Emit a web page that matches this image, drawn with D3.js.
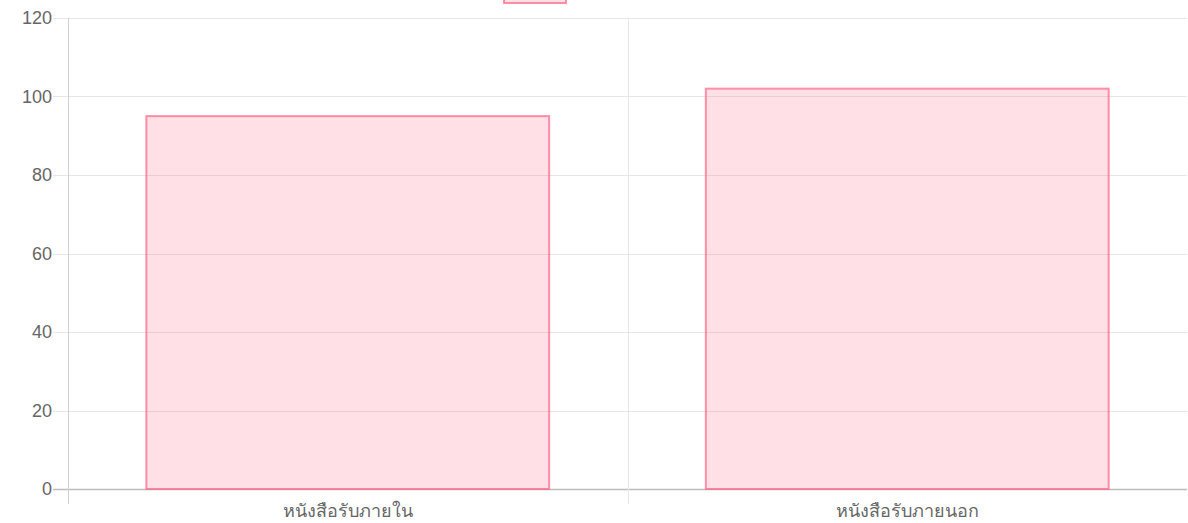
<!DOCTYPE html>
<html lang="th">
<head>
  <meta charset="UTF-8">
  <title>Bar chart</title>
  <script src="https://d3js.org/d3.v7.min.js"></script>
  <style>
    body { margin: 0; background: #fff; }
    svg { display: block; font-family: "Liberation Sans", Arial, sans-serif; }
  </style>
</head>
<body>
  <script>
    "use strict";
    // data
    var categories = ['หนังสือรับภายใน', 'หนังสือรับภายนอก'];
    var values = [95, 102];
    var yTicks = [0, 20, 40, 60, 80, 100, 120];

    var width = 1188, height = 523;
    var margin = { top: 18, right: 1, bottom: 34, left: 68 };

    var svg = d3.select('body').append('svg')
      .attr('width', width)
      .attr('height', height);

    var x = d3.scaleBand()
      .domain(categories)
      .range([margin.left, width - margin.right]);

    var y = d3.scaleLinear()
      .domain([0, 120])
      .range([height - margin.bottom, margin.top]);

    // horizontal grid + y ticks
    svg.selectAll('line.hgrid')
      .data(yTicks)
      .enter().append('line')
      .attr('class', 'hgrid')
      .attr('x1', margin.left - 15)
      .attr('x2', width - margin.right)
      .attr('y1', function (d) { return Math.round(y(d)) + 0.5; })
      .attr('y2', function (d) { return Math.round(y(d)) + 0.5; })
      .attr('stroke', function (d) { return d === 0 ? '#bdbdbd' : '#e6e6e6'; })
      .attr('stroke-width', function (d) { return d === 0 ? 1.5 : 1; });

    svg.selectAll('text.ytick')
      .data(yTicks)
      .enter().append('text')
      .attr('class', 'ytick')
      .attr('x', margin.left - 16)
      .attr('y', function (d) { return y(d); })
      .attr('dy', '0.35em')
      .attr('text-anchor', 'end')
      .attr('font-size', '18px')
      .attr('fill', '#666')
      .text(function (d) { return d; });

    // vertical grid lines at category boundaries (none on the right edge)
    var vLines = [x(categories[0]), x(categories[1])];
    svg.selectAll('line.vgrid')
      .data(vLines)
      .enter().append('line')
      .attr('class', 'vgrid')
      .attr('x1', function (d) { return Math.round(d) + 0.5; })
      .attr('x2', function (d) { return Math.round(d) + 0.5; })
      .attr('y1', margin.top)
      .attr('y2', height - margin.bottom + 15)
      .attr('stroke', function (d, i) { return i === 0 ? '#d0d0d0' : '#e6e6e6'; })
      .attr('stroke-width', 1);

    // bars
    var barW = x.bandwidth() * 0.72;
    svg.selectAll('rect.bar')
      .data(values)
      .enter().append('rect')
      .attr('class', 'bar')
      .attr('x', function (d, i) { return x(categories[i]) + (x.bandwidth() - barW) / 2; })
      .attr('y', function (d) { return y(d); })
      .attr('width', barW)
      .attr('height', function (d) { return y(0) - y(d); })
      .attr('fill', 'rgba(255, 99, 132, 0.2)')
      .attr('stroke', 'rgba(255, 99, 132, 0.7)')
      .attr('stroke-width', 2);

    // category labels
    svg.selectAll('text.xtick')
      .data(categories)
      .enter().append('text')
      .attr('class', 'xtick')
      .attr('x', function (d) { return x(d) + x.bandwidth() / 2; })
      .attr('y', height - 6)
      .attr('text-anchor', 'middle')
      .attr('font-size', '18px')
      .attr('fill', '#666')
      .text(function (d) { return d; });

    // legend box, cut off at the top
    svg.append('rect')
      .attr('x', 504)
      .attr('y', -10)
      .attr('width', 62)
      .attr('height', 13)
      .attr('fill', 'rgba(255, 99, 132, 0.2)')
      .attr('stroke', 'rgba(255, 99, 132, 0.7)')
      .attr('stroke-width', 2);
  </script>
</body>
</html>
